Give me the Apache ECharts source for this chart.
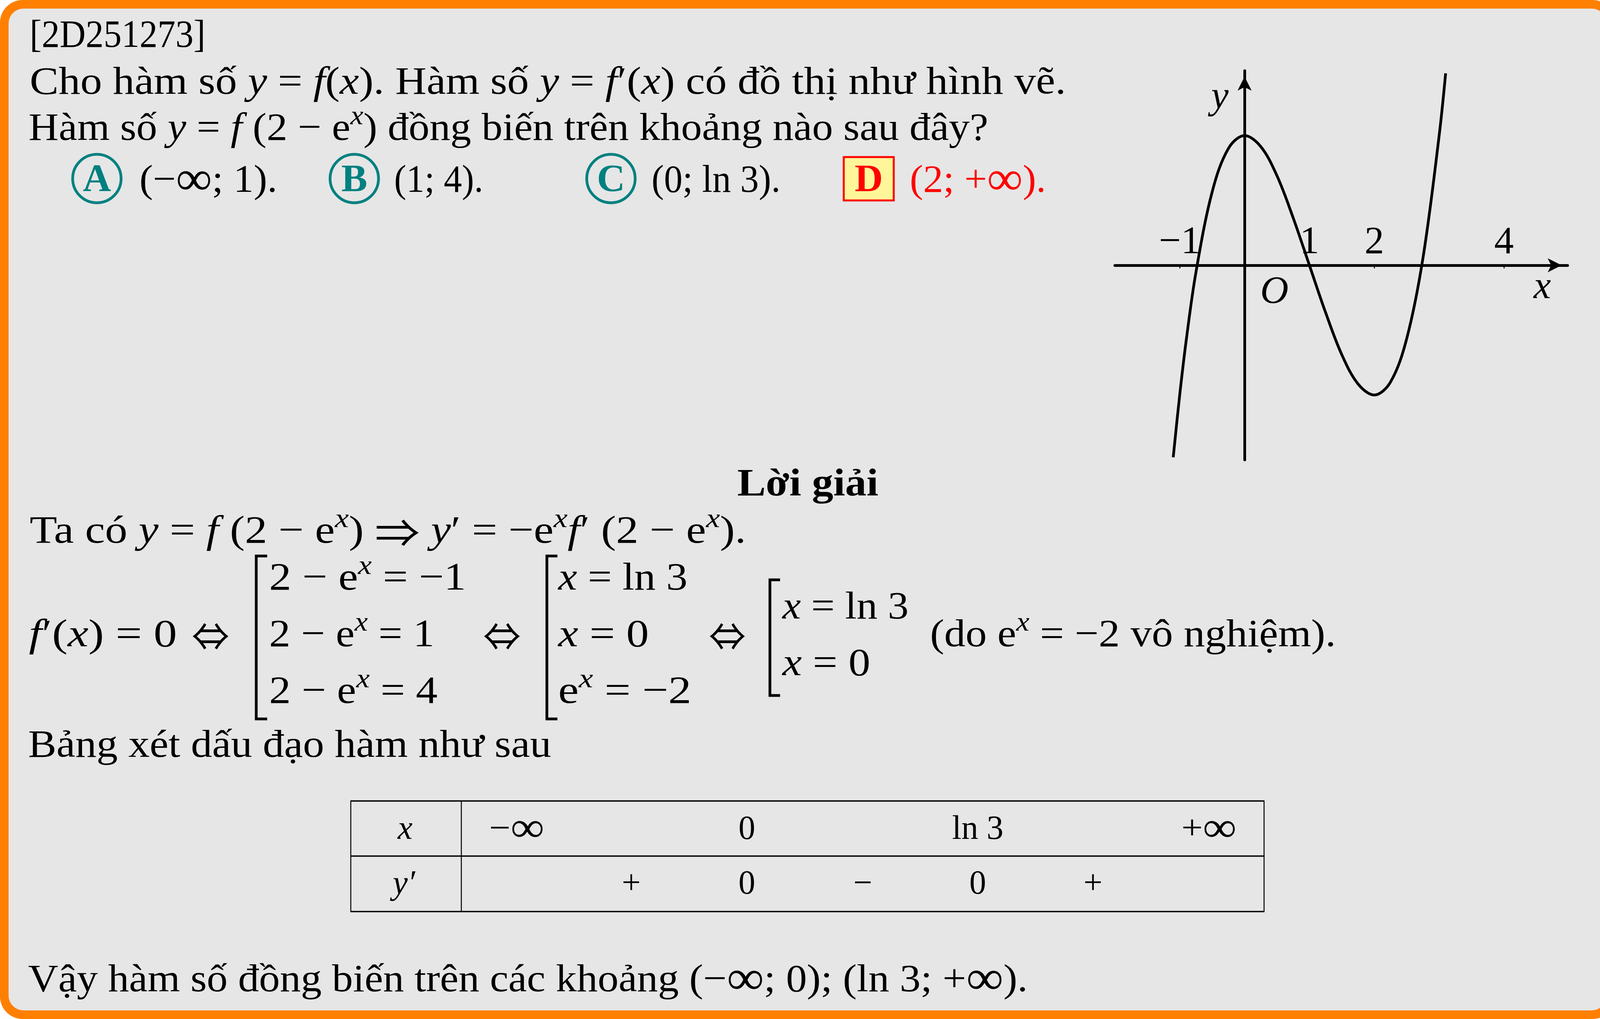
<!doctype html>
<html>
<head>
<meta charset="utf-8">
<title>2D251273</title>
<style>
html, body { margin: 0; padding: 0; background: #fff; }
#main { width: 4135px; height: 2608px; }
</style>
</head>
<body>
<div id="main"></div>
<script src="https://cdn.jsdelivr.net/npm/echarts@6/dist/echarts.min.js"></script>
<script>
// đồ thị y = f'(x): các điểm
var curveX = [-1.1, -1.0, -0.9, -0.75, -0.5, -0.25, 0, 0.25, 0.5, 0.75, 1, 1.25, 1.5, 1.75, 2, 2.25, 2.5, 2.75, 3, 3.1];
var curveY = [-2.96, -2.0, -1.16, -0.11, 1.13, 1.8, 2.0, 1.83, 1.38, 0.73, 0, -0.73, -1.38, -1.83, -2.0, -1.8, -1.13, 0.11, 2.0, 2.96];
var tickValues = [-1, 1, 2, 4];
var tickLabels = ['−1', '1', '2', '4'];

// bảng xét dấu
var tableX = ['−{tinf|∞}', '0', 'ln 3', '+{tinf|∞}'];
var tableSign = ['+', '0', '−', '0', '+'];

// đáp án
var optLetters = ['A', 'B', 'C', 'D'];
var optTexts = ['(−{inf|∞}; 1).', '(1; 4).', '(0; ln 3).', '(2; +{inf|∞}).'];

var FF = "'Liberation Serif', 'DejaVu Serif', serif";
var FS = 100;
var TFS = 86;   // cỡ chữ trong bảng

var rich = {
  i: { fontFamily: FF, fontSize: FS, fontStyle: 'italic' },
  s: { fontFamily: FF, fontSize: 70, fontStyle: 'italic', padding: [0, 0, 64, 0] },
  inf: { fontFamily: FF, fontSize: 125 },
  tinf: { fontFamily: FF, fontSize: 108 },
  ar: { fontFamily: "'Noto Sans CJK JP', 'DejaVu Serif'", fontSize: 100 }
};

var mctx = document.createElement('canvas').getContext('2d');
function fontOf(st) {
  return (st.fontStyle || 'normal') + ' ' + (st.fontWeight || 'normal') + ' ' + st.fontSize + 'px ' + st.fontFamily;
}
function measure(text, base) {
  var w = 0, re = /\{(\w+)\|([^}]*)\}/g, last = 0, m;
  while ((m = re.exec(text))) {
    if (m.index > last) { mctx.font = fontOf(base); w += mctx.measureText(text.slice(last, m.index)).width; }
    mctx.font = fontOf(rich[m[1]]);
    w += mctx.measureText(m[2]).width;
    last = re.lastIndex;
  }
  if (last < text.length) { mctx.font = fontOf(base); w += mctx.measureText(text.slice(last)).width; }
  return w;
}

function tx(x, base, text, o) {
  o = o || {};
  var fs = o.fs || FS;
  var st = {
    text: text, rich: rich, fontFamily: FF, fontSize: fs,
    fontWeight: o.fw || 'normal', fontStyle: o.it ? 'italic' : 'normal',
    fill: o.fill || '#000', align: o.align || 'left', verticalAlign: 'middle'
  };
  var sx = o.w ? o.w / measure(text, st) : 1;
  return { type: 'text', x: x, y: base - 0.27 * fs, z: 100, scaleX: sx, style: st };
}
function ln(pts, w) {
  return { type: 'polyline', z: 90, shape: { points: pts }, style: { stroke: '#000', lineWidth: w || 3, fill: null } };
}

var chart = echarts.init(document.getElementById('main'));

var data = [];
for (var k = 0; k < curveX.length; k++) data.push([curveX[k], curveY[k]]);

chart.setOption({
  animation: false,
  backgroundColor: 'transparent',
  grid: { left: 2854, top: 181, width: 1159, height: 996 },
  xAxis: {
    type: 'value', min: -2, max: 4.98,
    axisLine: { onZero: true, symbol: ['none', 'arrow'], symbolSize: [27, 36], symbolOffset: [0, -15],
      lineStyle: { color: '#000', width: 7 } },
    axisTick: { customValues: tickValues, length: 8, lineStyle: { color: '#000', width: 2.5 } },
    axisLabel: { show: false },
    splitLine: { show: false }
  },
  yAxis: {
    type: 'value', min: -3, max: 3,
    axisLine: { onZero: true, symbol: ['none', 'arrow'], symbolSize: [27, 36], symbolOffset: [0, -15],
      lineStyle: { color: '#000', width: 7 } },
    axisTick: { show: false },
    axisLabel: { show: false },
    splitLine: { show: false }
  },
  series: [{
    type: 'line', data: data, smooth: 0.35, showSymbol: false, clip: false,
    lineStyle: { color: '#000', width: 7 }
  }]
});

var els = [];
// khung viền cam
els.push({ type: 'rect', z: -100, shape: { x: 0, y: 0, width: 4135, height: 2608, r: 58 }, style: { fill: '#ff8000' } });
els.push({ type: 'rect', z: -99, shape: { x: 22, y: 22, width: 4091, height: 2564, r: 38 }, style: { fill: '#e6e6e6' } });

// nhãn trục và số trên trục hoành
for (var t = 0; t < tickValues.length; t++) {
  var pt = chart.convertToPixel({ gridIndex: 0 }, [tickValues[t], 0]);
  els.push(tx(pt[0], pt[1] - 30, tickLabels[t], { align: 'center' }));
}
var pO = chart.convertToPixel({ gridIndex: 0 }, [0.46, -0.42]);
var pX = chart.convertToPixel({ gridIndex: 0 }, [4.59, -0.35]);
var pY = chart.convertToPixel({ gridIndex: 0 }, [-0.38, 2.58]);
els.push(tx(pO[0], pO[1] + 27, 'O', { it: true, align: 'center' }));
els.push(tx(pX[0], pX[1] + 27, 'x', { it: true, align: 'center' }));
els.push(tx(pY[0], pY[1] + 27, 'y', { it: true, align: 'center' }));

// đề bài
els.push(tx(76, 121, '[2D251273]', { w: 450 }));
els.push(tx(76, 241, 'Cho hàm số {i|y} = {i|f}({i|x}). Hàm số {i|y} = {i|f}′({i|x}) có đồ thị như hình vẽ.', { w: 2653 }));
els.push(tx(73, 359, 'Hàm số {i|y} = {i|f} (2 − e{s|x}) đồng biến trên khoảng nào sau đây?', { w: 2457 }));

var optCx = [248, 907, 1564, 2224];
var optX0 = [357, 1009, 1668, 2329];
var optW = [353, 228, 330, 349];
for (var j = 0; j < 4; j++) {
  if (j < 3) {
    els.push({ type: 'circle', z: 90, shape: { cx: optCx[j], cy: 457, r: 62 }, style: { fill: null, stroke: '#008080', lineWidth: 7 } });
    els.push(tx(optCx[j], 490, optLetters[j], { fw: 'bold', fill: '#008080', align: 'center' }));
    els.push(tx(optX0[j], 492, optTexts[j], { w: optW[j] }));
  } else {
    els.push({ type: 'rect', z: 90, shape: { x: 2160, y: 402, width: 128, height: 111 }, style: { fill: '#fff699', stroke: '#ff0000', lineWidth: 5 } });
    els.push(tx(optCx[j], 490, optLetters[j], { fw: 'bold', fill: '#ff0000', align: 'center' }));
    els.push(tx(optX0[j], 492, optTexts[j], { fill: '#ff0000', w: optW[j] }));
  }
}

// lời giải
els.push(tx(2068, 1269, 'Lời giải', { fw: 'bold', align: 'center', w: 361 }));
els.push(tx(76, 1390, 'Ta có {i|y} = {i|f} (2 − e{s|x}) {ar|⇒} {i|y}′ = −e{s|x}{i|f}′ (2 − e{s|x}).', { w: 1834 }));
els.push(tx(74, 1655, '{i|f}′({i|x}) = 0', { w: 379 }));
els.push(tx(491, 1655, '{ar|⇔}', { w: 96 }));
els.push(ln([[684, 1423], [656, 1423], [656, 1840], [684, 1840]], 7));
els.push(tx(689, 1510, '2 − e{s|x} = −1', { w: 504 }));
els.push(tx(689, 1655, '2 − e{s|x} = 1', { w: 423 }));
els.push(tx(689, 1800, '2 − e{s|x} = 4', { w: 431 }));
els.push(tx(1237, 1655, '{ar|⇔}', { w: 96 }));
els.push(ln([[1427, 1423], [1400, 1423], [1400, 1840], [1427, 1840]], 7));
els.push(tx(1429, 1510, '{i|x} = ln 3', { w: 331 }));
els.push(tx(1429, 1655, '{i|x} = 0', { w: 232 }));
els.push(tx(1429, 1800, 'e{s|x} = −2', { w: 341 }));
els.push(tx(1815, 1655, '{ar|⇔}', { w: 94 }));
els.push(ln([[1997, 1484], [1971, 1484], [1971, 1780], [1997, 1780]], 7));
els.push(tx(2003, 1584, '{i|x} = ln 3', { w: 323 }));
els.push(tx(2003, 1729, '{i|x} = 0', { w: 225 }));
els.push(tx(2381, 1655, '(do e{s|x} = −2 vô nghiệm).', { w: 1039 }));
els.push(tx(72, 1938, 'Bảng xét dấu đạo hàm như sau', { w: 1339 }));

// bảng
els.push(ln([[897, 2050], [3237, 2050]], 3.5));
els.push(ln([[897, 2191], [3237, 2191]], 3.5));
els.push(ln([[897, 2333], [3237, 2333]], 3.5));
els.push(ln([[898, 2050], [898, 2333]], 2.5));
els.push(ln([[1181, 2050], [1181, 2333]], 2.5));
els.push(ln([[3236, 2050], [3236, 2333]], 2.5));
els.push(tx(1037, 2148, 'x', { it: true, align: 'center', fs: TFS }));
els.push(tx(1034, 2288, 'y′', { it: true, align: 'center', fs: TFS }));
var colX = [1323, 1912, 2503, 3095];
var colW = [141, 0, 0, 141];
for (var a = 0; a < tableX.length; a++) els.push(tx(colX[a], 2148, tableX[a], { align: 'center', fs: TFS, w: colW[a] || 0 }));
var signX = [1616, 1912, 2209, 2503, 2798];
for (var b = 0; b < tableSign.length; b++) els.push(tx(signX[b], 2288, tableSign[b], { align: 'center', fs: TFS }));

els.push(tx(72, 2538, 'Vậy hàm số đồng biến trên các khoảng (−{inf|∞}; 0); (ln 3; +{inf|∞}).', { w: 2559 }));

chart.setOption({ graphic: { elements: els } });
</script>
</body>
</html>
